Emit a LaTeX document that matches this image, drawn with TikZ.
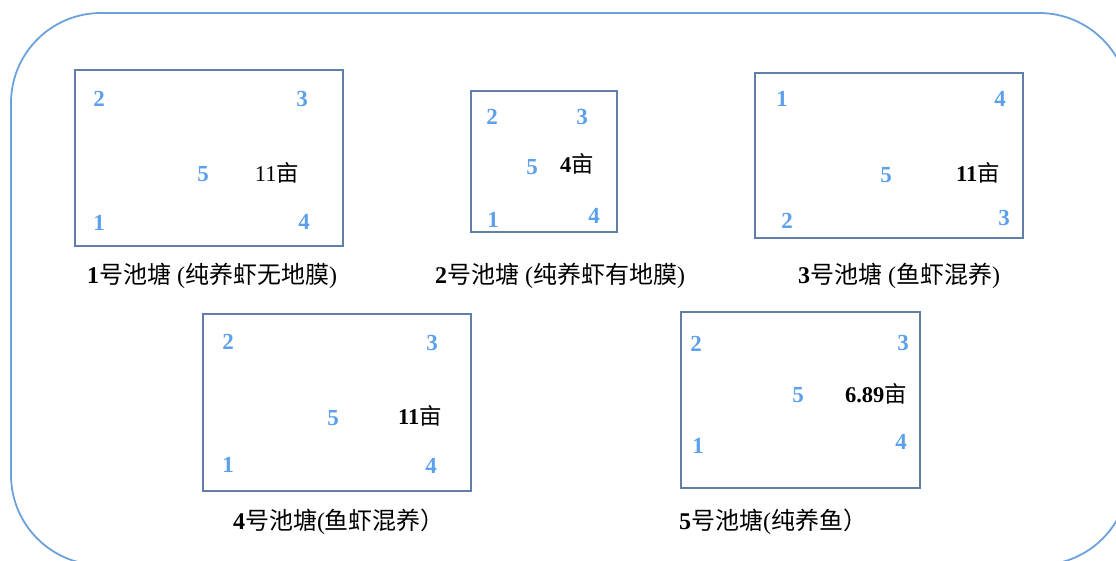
\documentclass[tikz,border=0pt]{standalone}
\usepackage{fontspec}
\setmainfont{Liberation Serif}
\newfontfamily\cjk{Noto Sans CJK SC}
\definecolor{outerc}{RGB}{108,162,220}
\definecolor{pondc}{RGB}{96,128,170}
\definecolor{numc}{RGB}{92,160,236}
\begin{document}
\begin{tikzpicture}[x=1pt,y=-1pt,
  outerbox/.style={draw=outerc, line width=1.8pt, rounded corners=90pt},
  pond/.style={draw=pondc, line width=1.3pt},
  num/.style={text=numc, font=\fontsize{23}{23}\selectfont\bfseries, inner sep=0pt},
  area/.style={font=\fontsize{22.5}{22.5}\selectfont, inner sep=0pt},
  captxt/.style={font=\fontsize{24}{24}\selectfont, inner sep=0pt}]
\useasboundingbox (0,0) rectangle (1116,561);
\clip (0,0) rectangle (1116,561);
\draw[outerbox] (11,13) rectangle (1129,565);

% Pond 1
\draw[pond] (75,70) rectangle (343,246);
\node[num] (p1n2) at (99,99) {2};
\node[num] (p1n3) at (302,99) {3};
\node[num] (p1n5) at (203,174) {5};
\node[area] (p1a) at (277,173) {11{\cjk 亩}};
\node[num] (p1n1) at (99,223) {1};
\node[num] (p1n4) at (304,222) {4};
\node[captxt] (p1c) at (212,276) {\textbf{1}{\cjk 号池塘} ({\cjk 纯养虾无地膜})};

% Pond 2
\draw[pond] (471,91) rectangle (617,232);
\node[num] (p2n2) at (492,117) {2};
\node[num] (p2n3) at (582,117) {3};
\node[num] (p2n5) at (532,167) {5};
\node[area] (p2a) at (577,164) {\textbf{4}{\cjk 亩}};
\node[num] (p2n1) at (493,220) {1};
\node[num] (p2n4) at (594,216) {4};
\node[captxt] (p2c) at (560,276) {\textbf{2}{\cjk 号池塘} ({\cjk 纯养虾有地膜})};

% Pond 3
\draw[pond] (755,73) rectangle (1023,238);
\node[num] (p3n1) at (782,99) {1};
\node[num] (p3n4) at (1000,99) {4};
\node[num] (p3n5) at (886,175) {5};
\node[area] (p3a) at (978,173) {\textbf{11}{\cjk 亩}};
\node[num] (p3n2) at (787,221) {2};
\node[num] (p3n3) at (1004,218) {3};
\node[captxt] (p3c) at (899,276) {\textbf{3}{\cjk 号池塘} ({\cjk 鱼虾混养})};

% Pond 4
\draw[pond] (203,314) rectangle (471,491);
\node[num] (p4n2) at (228,342) {2};
\node[num] (p4n3) at (432,343) {3};
\node[num] (p4n5) at (333,418) {5};
\node[area] (p4a) at (420,416) {\textbf{11}{\cjk 亩}};
\node[num] (p4n1) at (228,465) {1};
\node[num] (p4n4) at (431,466) {4};
\node[captxt] (p4c) at (339,522) {\textbf{4}{\cjk 号池塘}({\cjk 鱼虾混养）}};

% Pond 5
\draw[pond] (681,312) rectangle (920,488);
\node[num] (p5n2) at (696,344) {2};
\node[num] (p5n3) at (903,343) {3};
\node[num] (p5n5) at (798,395) {5};
\node[area] (p5a) at (876,394) {\textbf{6.89}{\cjk 亩}};
\node[num] (p5n1) at (698,446) {1};
\node[num] (p5n4) at (901,442) {4};
\node[captxt] (p5c) at (773,522) {\textbf{5}{\cjk 号池塘}({\cjk 纯养鱼）}};
\end{tikzpicture}
\end{document}
